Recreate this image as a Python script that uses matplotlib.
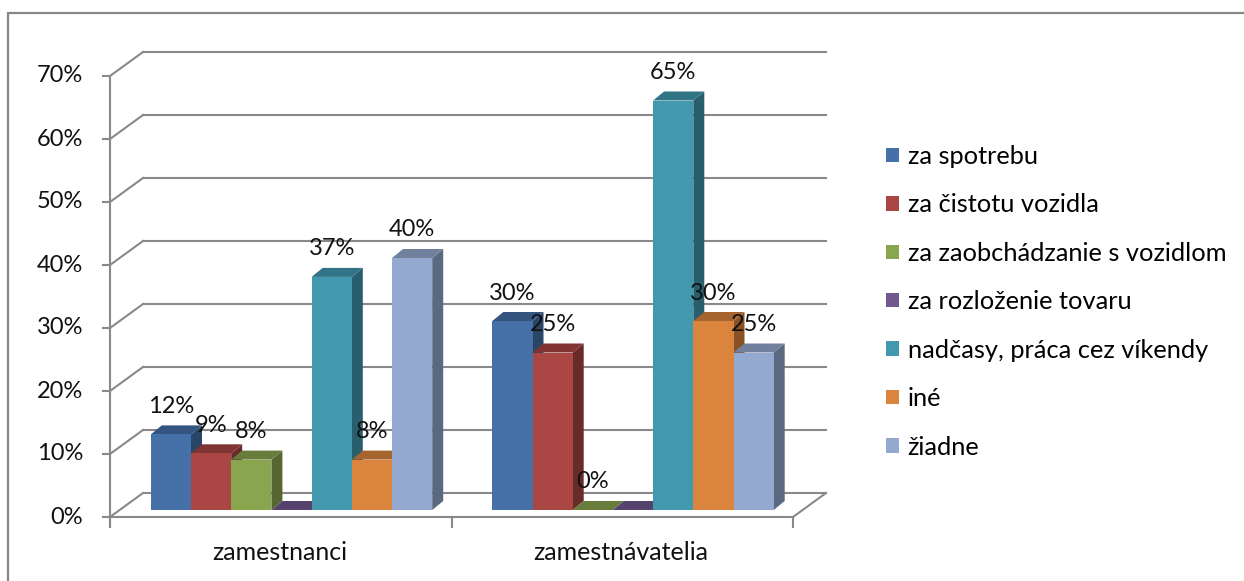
import numpy as np
import matplotlib.pyplot as plt
from matplotlib.patches import Polygon, Rectangle, Patch
from matplotlib.colors import to_rgb

plt.rcParams['font.family'] = ['Lato', 'DejaVu Sans']

kategorie = ['zamestnanci', 'zamestnávatelia']
serie = ['za spotrebu', 'za čistotu vozidla', 'za zaobchádzanie s vozidlom',
         'za rozloženie tovaru', 'nadčasy, práca cez víkendy', 'iné', 'žiadne']
hodnoty = [
    [12, 30],
    [9, 25],
    [8, 0],
    [0, 0],
    [37, 65],
    [8, 30],
    [40, 25],
]
popisky = [True, True, True, False, True, True, True]
farby = ['#4570a8', '#aa4643', '#89a54e', '#71588f', '#4198af', '#db843d', '#93a9cf']
y_ticky = [0, 10, 20, 30, 40, 50, 60, 70]

W, H = 1244, 581
fig = plt.figure(figsize=(W / 100, H / 100), dpi=100)

# ramik grafu (pravy a dolny okraj su mimo obrazka)
fig.patches.append(Rectangle((8 / W, -0.05), 1.1, (H - 13) / H + 0.05,
                             transform=fig.transFigure, fill=False,
                             edgecolor='#878787', lw=1.6))

ax = fig.add_axes([110 / W, (H - 517) / H, 683 / W, 441 / H])
ax.set_xlim(0, 2)
ax.set_ylim(0, 70)
ax.axis('off')

px_x = 683 / 2
px_y = 441 / 70

# hlbka steny, posun roviny stlpcov a hlbka stlpca
WX, WY = 33 / px_x, 24 / px_y
BX0, BY0 = 10.75 / px_x, 7 / px_y
DX, DY = 11 / px_x, 9 / px_y
BW = 40.2 / px_x

seda = '#898989'
lw = 1.5

# mriezka na zadnej a bocnej stene
for v in y_ticky:
    ax.plot([WX, 2 + WX], [v + WY, v + WY], color=seda, lw=lw, clip_on=False, zorder=1)
    ax.plot([0, WX], [v, v + WY], color=seda, lw=lw, clip_on=False, zorder=1)
    ax.plot([-7 / px_x, 0], [v, v], color=seda, lw=lw, clip_on=False, zorder=1)
    ax.text(-27 / px_x, v, f'{v}%', ha='right', va='center', fontsize=17,
            color='#111111')

# os, podlaha a znacky kategorii
ax.plot([0, 0], [-9 / px_y, 70], color=seda, lw=lw, clip_on=False, zorder=1)
ax.plot([0, 2], [0, 0], color=seda, lw=lw, clip_on=False, zorder=1)
ax.plot([2, 2 + WX], [0, WY], color=seda, lw=lw, clip_on=False, zorder=1)
for k in range(len(kategorie) + 1):
    ax.plot([k, k], [0, -10 / px_y], color=seda, lw=lw, clip_on=False, zorder=1)
for k, nazov in enumerate(kategorie):
    ax.text(k + 0.5 - 0.004, -36 / px_y, nazov, ha='center', va='center',
            fontsize=18, color='#111111')


def tien(farba, f):
    r, g, b = to_rgb(farba)
    return (r * f, g * f, b * f)


n = len(serie)
z = 2
for k in range(len(kategorie)):
    x_start = k + 0.5 + BX0 - n * BW / 2
    for i in range(n):
        v = hodnoty[i][k]
        x0 = x_start + i * BW
        x1 = x0 + BW
        y0 = BY0
        y1 = BY0 + v
        predna = [(x0, y0), (x1, y0), (x1, y1), (x0, y1)]
        vrch = [(x0, y1), (x1, y1), (x1 + DX, y1 + DY), (x0 + DX, y1 + DY)]
        bok = [(x1, y0), (x1 + DX, y0 + DY), (x1 + DX, y1 + DY), (x1, y1)]
        ax.add_patch(Polygon(bok, closed=True, facecolor=tien(farby[i], 0.62),
                             edgecolor='none', zorder=z, clip_on=False))
        ax.add_patch(Polygon(vrch, closed=True, facecolor=tien(farby[i], 0.76),
                             edgecolor='none', zorder=z, clip_on=False))
        if v > 0:
            ax.add_patch(Polygon(predna, closed=True, facecolor=farby[i],
                                 edgecolor='none', zorder=z, clip_on=False))
        z += 1
        if popisky[i]:
            ax.text((x0 + x1) / 2, y1 + 28 / px_y, f'{v}%', ha='center',
                    va='center', fontsize=17, color='#111111', zorder=100)

handles = [Patch(facecolor=c, edgecolor='none') for c in farby]
fig.legend(handles, serie, loc='upper left', bbox_to_anchor=(886 / W, 1 - 145 / H),
           frameon=False, fontsize=18.3, handlelength=0.5, handleheight=0.5,
           handletextpad=0.35, labelspacing=1.0, borderaxespad=0, borderpad=0)

fig.savefig('out.png', dpi=100)
